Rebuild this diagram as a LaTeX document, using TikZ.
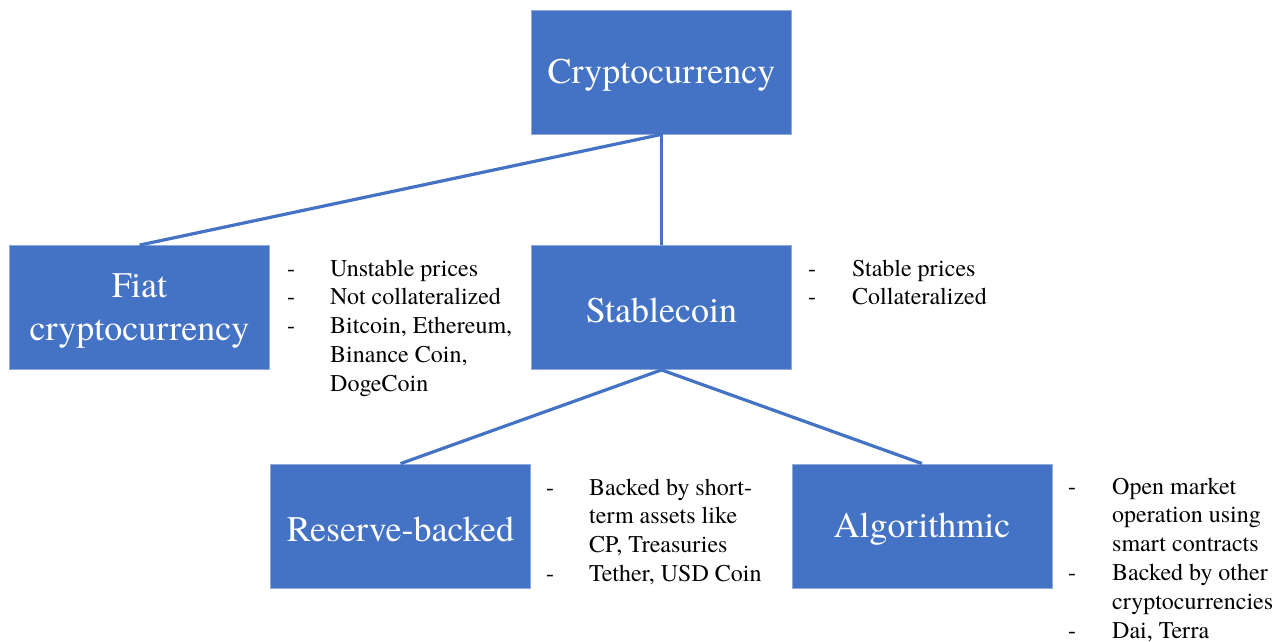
\documentclass[tikz,border=0pt]{standalone}
\usepackage{fontspec}
\setmainfont{texgyretermes}[Extension=.otf, UprightFont=*-regular, BoldFont=*-bold, ItalicFont=*-italic, BoldItalicFont=*-bolditalic]
\definecolor{boxblue}{HTML}{4472C4}
\tikzset{
  catbox/.style={fill=boxblue, draw=boxblue!60!white, line width=0.8pt, text=white,
    minimum width=260pt, minimum height=124pt, inner sep=0pt, align=center,
    font=\fontsize{36}{43}\selectfont},
  boxlabel/.style={text=white, inner sep=0pt, align=center, font=\fontsize{36}{43}\selectfont},
  link/.style={draw=boxblue, line width=3.2pt},
  notes/.style={anchor=base west, inner sep=0pt, font=\fontsize{24}{28.8}\selectfont}
}
\begin{document}
\begin{tikzpicture}[x=1pt,y=-1pt]
\useasboundingbox (0,0) rectangle (1283,641);
\node[catbox] (crypto) at (661.5,72) {};
\node[catbox] (fiat) at (139.5,307.5) {};
\node[catbox] (stable) at (661.5,307.5) {};
\node[catbox] (reserve) at (400.5,526) {};
\node[catbox] (algo) at (922,526) {};
\node[boxlabel] (cryptolabel) at ([yshift=-3pt]crypto.center) {Cryptocurrency};
\node[boxlabel] (fiatlabel) at ([yshift=-3pt]fiat.center) {Fiat\\cryptocurrency};
\node[boxlabel] (stablelabel) at ([yshift=-3pt]stable.center) {Stablecoin};
\node[boxlabel] (reservelabel) at ([yshift=-3pt]reserve.center) {Reserve-backed};
\node[boxlabel] (algolabel) at ([yshift=-3pt]algo.center) {Algorithmic};
\draw[link] (crypto.south) -- (fiat.north);
\draw[link] (crypto.south) -- (stable.north);
\draw[link] (stable.south) -- (reserve.north);
\draw[link] (stable.south) -- (algo.north);
\node[notes] (fiatnotes) at (287,276) {\begin{tabular}[t]{@{}p{43pt}@{}l@{}}
-& Unstable prices\\
-& Not collateralized\\
-& Bitcoin, Ethereum,\\
 & Binance Coin,\\
 & DogeCoin
\end{tabular}};
\node[notes] (stablenotes) at (808,276) {\begin{tabular}[t]{@{}p{44pt}@{}l@{}}
-& Stable prices\\
-& Collateralized
\end{tabular}};
\node[notes] (reservenotes) at (546,495) {\begin{tabular}[t]{@{}p{43pt}@{}l@{}}
-& Backed by short-\\
 & term assets like\\
 & CP, Treasuries\\
-& Tether, USD Coin
\end{tabular}};
\node[notes] (algonotes) at (1068,494) {\begin{tabular}[t]{@{}p{44pt}@{}l@{}}
-& Open market\\
 & operation using\\
 & smart contracts\\
-& Backed by other\\
 & cryptocurrencies\\
-& Dai, Terra
\end{tabular}};
\end{tikzpicture}
\end{document}
